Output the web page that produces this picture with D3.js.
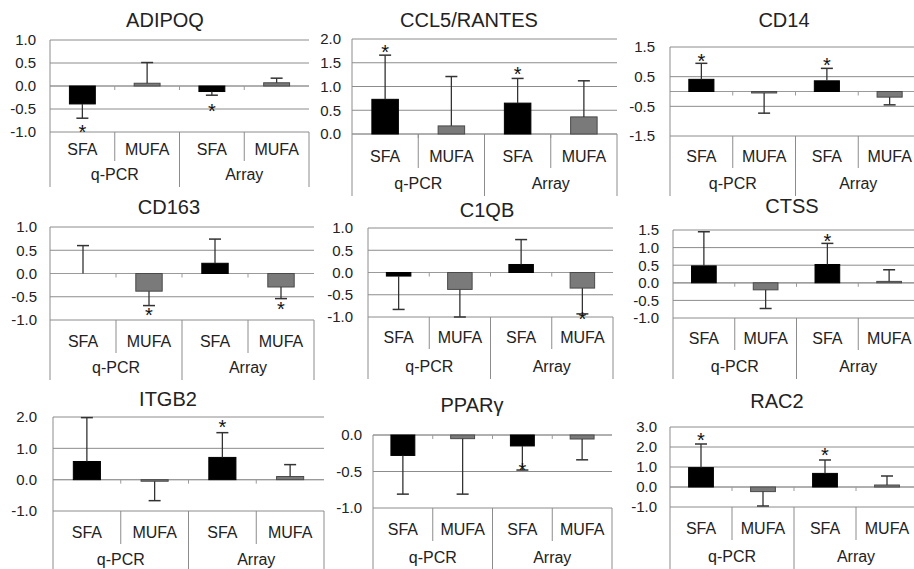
<!DOCTYPE html>
<html><head><meta charset="utf-8">
<script src="https://cdn.jsdelivr.net/npm/d3@7"></script>
<style>
html,body{margin:0;padding:0;background:#fff;}
svg{display:block;font-family:"Liberation Sans",Arial,sans-serif;}
</style></head>
<body><svg id="c" width="914" height="569"></svg>
<script>
// ---------- DATA ----------
const genes = ["ADIPOQ","CCL5/RANTES","CD14","CD163","C1QB","CTSS","ITGB2","PPARγ","RAC2"];
const categories = ["SFA","MUFA","SFA","MUFA"];
const groups = ["q-PCR","Array"];
// mean values per gene: [qPCR SFA, qPCR MUFA, Array SFA, Array MUFA]
const means = [
  [-0.39, 0.06, -0.12, 0.07],
  [0.73, 0.17, 0.65, 0.36],
  [0.41, -0.05, 0.36, -0.19],
  [0.00, -0.38, 0.22, -0.29],
  [-0.08, -0.38, 0.18, -0.35],
  [0.48, -0.20, 0.52, 0.04],
  [0.58, -0.05, 0.71, 0.10],
  [-0.28, -0.05, -0.15, -0.055],
  [0.97, -0.23, 0.68, 0.10]
];
// error bar end values
const errEnds = [
  [-0.70, 0.51, -0.20, 0.17],
  [1.66, 1.21, 1.17, 1.12],
  [0.95, -0.73, 0.78, -0.45],
  [0.60, -0.69, 0.74, -0.54],
  [-0.83, -1.00, 0.74, -0.93],
  [1.45, -0.73, 1.12, 0.37],
  [1.98, -0.67, 1.50, 0.48],
  [-0.81, -0.81, -0.48, -0.34],
  [2.15, -0.95, 1.35, 0.55]
];
// significance asterisk positions (null = none)
const stars = [
  [-0.91, null, -0.46, null],
  [1.81, null, 1.35, null],
  [1.16, null, 1.03, null],
  [null, -0.80, null, -0.68],
  [null, null, null, -0.96],
  [null, null, 1.31, null],
  [null, null, 1.80, null],
  [null, null, -0.43, null],
  [2.57, null, 1.80, null]
];
const yDomains = [[-1,1],[0,2],[-1.5,1.5],[-1,1],[-1,1],[-1,1.5],[-1,2],[-1,0],[-1,3]];
const yTicks = [
  [-1,-0.5,0,0.5,1],
  [0,0.5,1,1.5,2],
  [-1.5,-0.5,0.5,1.5],
  [-1,-0.5,0,0.5,1],
  [-1,-0.5,0,0.5,1],
  [-1,-0.5,0,0.5,1,1.5],
  [-1,0,1,2],
  [-1,-0.5,0],
  [-1,0,1,2,3]
];

// ---------- LAYOUT ----------
const layout = [
  {l:50, r:309, t:40, b:132, tx:165, ty:27, cy:155, gy:180, pad:14},
  {l:352, r:617, t:39, b:134, tx:469, ty:27, cy:162, gy:189, pad:11},
  {l:670, r:921, t:47, b:136, tx:784, ty:27, cy:162, gy:189, pad:15},
  {l:50, r:314, t:227, b:320, tx:169, ty:214, cy:347, gy:373, pad:13},
  {l:368, r:613, t:228, b:317, tx:487, ty:217, cy:343, gy:372, pad:15},
  {l:673, r:920, t:230, b:318, tx:792, ty:213, cy:344, gy:372, pad:14},
  {l:53, r:324, t:417, b:511, tx:168, ty:406, cy:538, gy:565, pad:16},
  {l:373, r:612, t:435, b:508, tx:472, ty:412, cy:535, gy:563, pad:11},
  {l:670, r:918, t:427, b:507, tx:777, ty:408, cy:534, gy:562, pad:13}
];

const svg = d3.select("#c");
const gridColor = "#8c8c8c";
const textColor = "#222";

genes.forEach((gene, i) => {
  const L = layout[i];
  const g = svg.append("g");
  const y = d3.scaleLinear().domain(yDomains[i]).range([L.b, L.t]);
  const x = d3.scaleBand().domain(d3.range(categories.length)).range([L.l, L.r]);
  const bw = x.bandwidth() * 0.4;

  // title
  g.append("text").attr("x", L.tx).attr("y", L.ty).attr("text-anchor","middle")
    .attr("font-size", 20).attr("fill", textColor).text(gene);

  // gridlines
  g.selectAll(".grid").data(yTicks[i]).join("line")
    .attr("x1", L.l).attr("x2", L.r)
    .attr("y1", d => y(d)).attr("y2", d => y(d))
    .attr("stroke", gridColor).attr("stroke-width", 1);

  // y axis labels
  const ax = g.append("g").attr("transform", `translate(${L.l},0)`)
    .call(d3.axisLeft(y).tickValues(yTicks[i]).tickSize(0).tickPadding(L.pad)
      .tickFormat(d => d.toFixed(1)));
  ax.select(".domain").remove();
  ax.selectAll("text").attr("font-size", 15).attr("fill", textColor)
    .attr("font-family", "Liberation Sans, Arial, sans-serif");

  // zero axis line with small tick marks
  const y0 = y(0);
  g.append("line").attr("x1", L.l).attr("x2", L.r).attr("y1", y0).attr("y2", y0)
    .attr("stroke", "#9a9a9a").attr("stroke-width", 1.2);
  g.selectAll(".zt").data(d3.range(1, categories.length)).join("line")
    .attr("x1", d => x(d)).attr("x2", d => x(d))
    .attr("y1", y0).attr("y2", y0 + 4)
    .attr("stroke", "#9a9a9a");

  // vertical axis
  const boxBottom = L.gy + 7;
  g.append("line").attr("x1", L.l).attr("x2", L.l).attr("y1", L.t).attr("y2", boxBottom)
    .attr("stroke", gridColor);
  // category box lines
  g.append("line").attr("x1", L.r).attr("x2", L.r).attr("y1", L.b).attr("y2", boxBottom)
    .attr("stroke", gridColor);
  g.selectAll(".div").data(d3.range(1, categories.length)).join("line")
    .attr("x1", d => x(d)).attr("x2", d => x(d))
    .attr("y1", L.b)
    .attr("y2", d => d % 2 === 0 ? boxBottom : L.cy + 6)
    .attr("stroke", gridColor);

  // bars
  const vals = means[i];
  g.selectAll(".bar").data(vals).join("rect")
    .attr("x", (d, j) => x(j) + (x.bandwidth() - bw) / 2)
    .attr("width", bw)
    .attr("y", d => Math.min(y(d), y0))
    .attr("height", d => Math.abs(y(d) - y0))
    .attr("fill", (d, j) => j % 2 === 0 ? "#000" : "#7a7a7a")
    .attr("stroke", (d, j) => j % 2 === 0 ? "#000" : "#4a4a4a")
    .attr("stroke-width", 1);

  // error bars
  const eg = g.selectAll(".err").data(vals).join("g");
  eg.append("line")
    .attr("x1", (d, j) => x(j) + x.bandwidth() / 2)
    .attr("x2", (d, j) => x(j) + x.bandwidth() / 2)
    .attr("y1", d => y(d))
    .attr("y2", (d, j) => y(errEnds[i][j]))
    .attr("stroke", "#333").attr("stroke-width", 1.3);
  eg.append("line")
    .attr("x1", (d, j) => x(j) + x.bandwidth() / 2 - 6)
    .attr("x2", (d, j) => x(j) + x.bandwidth() / 2 + 6)
    .attr("y1", (d, j) => y(errEnds[i][j]))
    .attr("y2", (d, j) => y(errEnds[i][j]))
    .attr("stroke", "#333").attr("stroke-width", 1.5);

  // stars
  g.selectAll(".star").data(stars[i].map((s, j) => ({s, j})).filter(d => d.s !== null)).join("text")
    .attr("x", d => x(d.j) + x.bandwidth() / 2)
    .attr("y", d => y(d.s) + 11)
    .attr("text-anchor", "middle").attr("font-size", 20).attr("fill", "#111")
    .text("*");

  // category labels
  g.selectAll(".cat").data(categories).join("text")
    .attr("x", (d, j) => x(j) + x.bandwidth() / 2)
    .attr("y", L.cy)
    .attr("text-anchor", "middle").attr("font-size", 16).attr("fill", textColor)
    .text(d => d);

  // group labels
  g.selectAll(".grp").data(groups).join("text")
    .attr("x", (d, k) => (x(k * 2) + x(k * 2 + 1) + x.bandwidth()) / 2)
    .attr("y", L.gy)
    .attr("text-anchor", "middle").attr("font-size", 16).attr("fill", textColor)
    .text(d => d);
});
</script>
</body></html>
